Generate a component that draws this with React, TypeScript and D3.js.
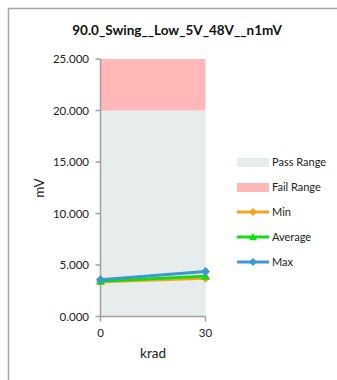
import React from "react";
import * as d3 from "d3";

const categories = [0, 30];
const minValues = [3.38, 3.72];
const avgValues = [3.42, 3.92];
const maxValues = [3.57, 4.36];
const passRange = [0, 20];
const failRange = [20, 25];
const yTicks = [0, 5, 10, 15, 20, 25];
const title = "90.0_Swing__Low_5V_48V__n1mV";

const series = [
  { name: "Min", values: minValues, color: "#f9a11b", marker: "diamond" },
  { name: "Average", values: avgValues, color: "#11dd11", marker: "triangle" },
  { name: "Max", values: maxValues, color: "#3d97d3", marker: "diamond" },
];

export default function App() {
  const W = 337, H = 380;
  const x = d3.scaleLinear().domain([0, 30]).range([100.5, 205.5]);
  const y = d3.scaleLinear().domain([0, 25]).range([316.5, 59]);
  const line = d3.line<number>().x((_, i) => x(categories[i])).y((d) => y(d));
  const font = "Lato, 'Open Sans', sans-serif";
  const marker = (type: string, cx: number, cy: number, color: string, s = 4.5) =>
    type === "diamond" ? (
      <path d={`M${cx},${cy - s}L${cx + s},${cy}L${cx},${cy + s}L${cx - s},${cy}Z`} fill={color} />
    ) : (
      <path d={`M${cx},${cy - s}L${cx + s},${cy + s * 0.8}L${cx - s},${cy + s * 0.8}Z`} fill={color} />
    );
  const legendY = [162, 187, 212, 237, 262];
  return (
    <svg width={W} height={H} style={{ position: "absolute", left: 0, top: 0 }} fontFamily={font}>
      <rect x={0} y={0} width={W} height={H} fill="white" />
      <rect x={8.5} y={8.5} width={400} height={400} fill="white" stroke="#a6a6a6" strokeWidth={1.5} />
      <text x={177} y={35} textAnchor="middle" fontSize={13.5} fontWeight="bold" fill="#111">{title}</text>
      <rect x={x(0)} y={y(passRange[1])} width={x(30) - x(0)} height={y(passRange[0]) - y(passRange[1])} fill="#e7ecec" />
      <rect x={x(0)} y={y(failRange[1])} width={x(30) - x(0)} height={y(failRange[0]) - y(failRange[1])} fill="#ffb7b7" />
      <line x1={x(0)} x2={x(0)} y1={y(25)} y2={y(0)} stroke="#a0a0a0" strokeWidth={1.5} />
      <line x1={x(0)} x2={x(30)} y1={y(0)} y2={y(0)} stroke="#a0a0a0" strokeWidth={1.5} />
      {yTicks.map((t) => (
        <g key={t}>
          <line x1={x(0) - 5} x2={x(0)} y1={y(t)} y2={y(t)} stroke="#a0a0a0" strokeWidth={1.5} />
          <text x={89} y={y(t) + 4} textAnchor="end" fontSize={11.5} fill="#222">{t.toFixed(3)}</text>
        </g>
      ))}
      {categories.map((c) => (
        <g key={c}>
          <line x1={x(c)} x2={x(c)} y1={y(0)} y2={y(0) + 5} stroke="#a0a0a0" strokeWidth={1.5} />
          <text x={x(c)} y={y(0) + 20} textAnchor="middle" fontSize={11.5} fill="#222">{c}</text>
        </g>
      ))}
      <text x={153} y={358} textAnchor="middle" fontSize={13.5} fill="#222">krad</text>
      <text transform="translate(44,188) rotate(-90)" textAnchor="middle" fontSize={13.5} fill="#222">mV</text>
      {series.map((s) => (
        <g key={s.name}>
          <path d={line(s.values) || ""} fill="none" stroke={s.color} strokeWidth={3} />
          {s.values.map((v, i) => <g key={i}>{marker(s.marker, x(categories[i]), y(v), s.color)}</g>)}
        </g>
      ))}
      <rect x={237} y={legendY[0] - 4} width={32} height={9} fill="#e7ecec" />
      <text x={272} y={legendY[0] + 4} fontSize={11} fill="#222">Pass Range</text>
      <rect x={237} y={legendY[1] - 4} width={32} height={9} fill="#ffb7b7" />
      <text x={272} y={legendY[1] + 4} fontSize={11} fill="#222">Fail Range</text>
      {series.map((s, i) => (
        <g key={s.name}>
          <line x1={237} x2={269} y1={legendY[2 + i]} y2={legendY[2 + i]} stroke={s.color} strokeWidth={3} />
          {marker(s.marker, 253, legendY[2 + i], s.color, 4)}
          <text x={272} y={legendY[2 + i] + 4} fontSize={11} fill="#222">{s.name}</text>
        </g>
      ))}
    </svg>
  );
}
